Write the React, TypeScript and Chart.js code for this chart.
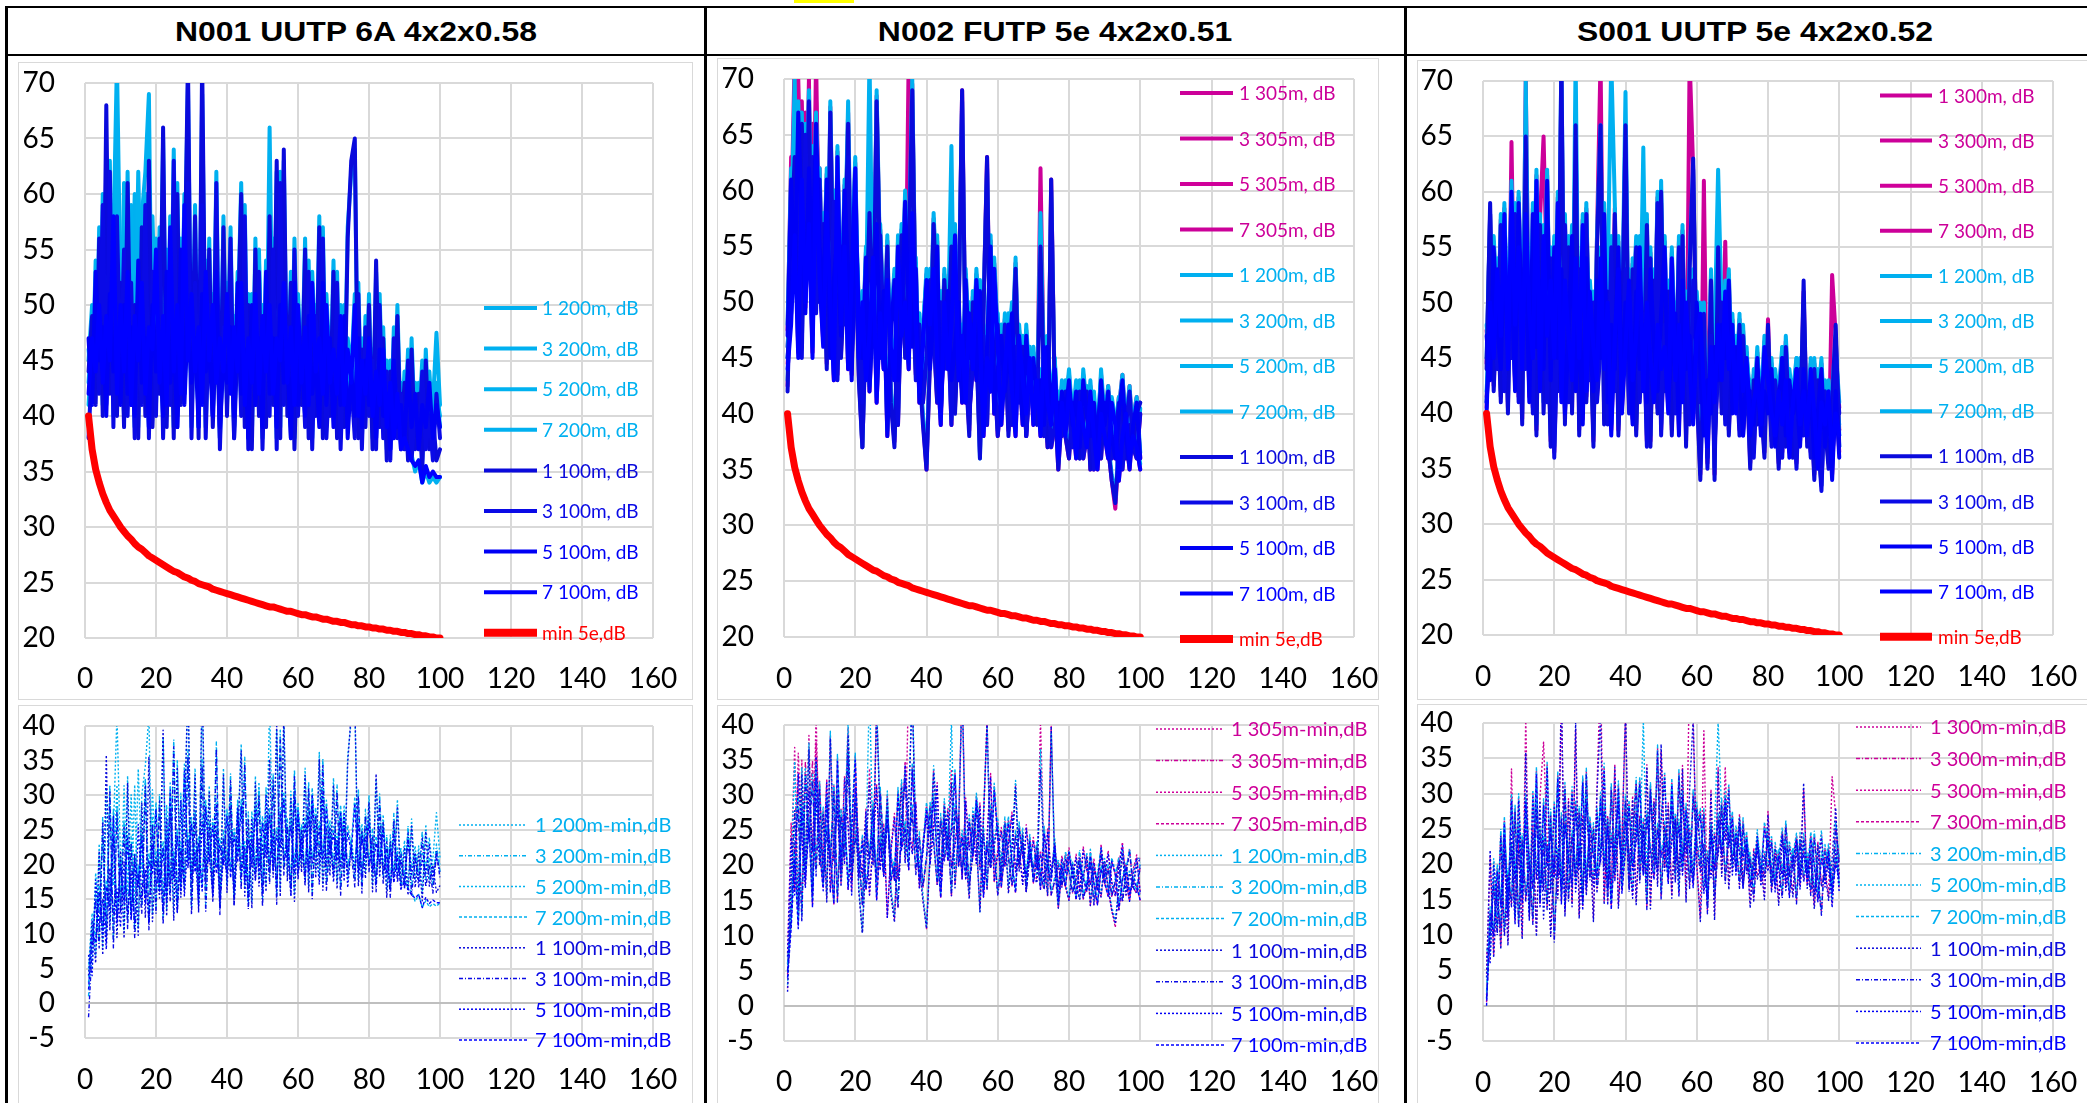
import React, { useEffect, useRef } from "react";
import { Chart, registerables } from "chart.js";
Chart.register(...registerables);

// ---------------- data ----------------
const FREQ = [1,2,3,4,5,6,7,8,9,10,11,12,13,14,15,16,17,18,19,20,21,22,23,24,25,26,27,28,29,30,31,32,33,34,35,36,37,38,39,40,41,42,43,44,45,46,47,48,49,50,51,52,53,54,55,56,57,58,59,60,61,62,63,64,65,66,67,68,69,70,71,72,73,74,75,76,77,78,79,80,81,82,83,84,85,86,87,88,89,90,91,92,93,94,95,96,97,98,99,100];

const MIN_5E = [40,37.0,35.2,34.0,33.0,32.2,31.5,31.0,30.5,30.0,29.6,29.2,28.9,28.5,28.2,28.0,27.7,27.4,27.2,27.0,26.8,26.6,26.4,26.2,26.0,25.9,25.7,25.5,25.4,25.2,25.1,24.9,24.8,24.7,24.6,24.4,24.3,24.2,24.1,24.0,23.9,23.8,23.7,23.6,23.5,23.4,23.3,23.2,23.1,23.0,22.9,22.8,22.8,22.7,22.6,22.5,22.4,22.4,22.3,22.2,22.1,22.1,22.0,21.9,21.9,21.8,21.7,21.7,21.6,21.5,21.5,21.4,21.4,21.3,21.2,21.2,21.1,21.1,21.0,21.0,20.9,20.9,20.8,20.8,20.7,20.7,20.6,20.6,20.5,20.5,20.4,20.4,20.3,20.3,20.2,20.2,20.1,20.1,20.0,20.0];

// N001 UUTP 6A
const N001_200_1 = [45,50,42,57,41,63,43,56,72,51,40,62,42,60,39,58,62,69,40,49,43,65,40,55,39,61,42,52,70,41,59,39,69,43,56,40,50,39,58,41,53,39,48,61,40,51,38,56,41,47,40,66,42,62,39,63,41,53,38,50,42,56,39,51,41,58,39,48,41,54,39,49,40,57,62,64,39,47,40,51,38,53,40,48,37,45,39,50,38,44,37,47,38,43,36,46,38,41,47.5,41];
const N001_200_3 = [41,46,51,43,60,42,63,40,59,44,56,41,53,39,48,42,60,39,54,41,57,39,51,42,64,40,49,43,62,39,53,42,60,39,51,41,62,38,49,43,57,39,52,41,59,38,48,42,54,38,50,41,56,38,62,42,49,39,56,41,48,40,54,38,50,43,57,39,46,41,53,38,48,41,44,39,52,38,49,41,46,38,51,39,45,37,48,39,43,38,46,37,42,39,45,38,41,37,43,39];
const N001_200_5 = [46,42,54,47,57,43,60,48,62,44,61,45,59,43,62,47,60,44,58,46,49,41,55,44,48,40,56,42,50,44,48,40,52,45,47,41,54,40,46,44,49,41,53,43,47,39,51,42,55,40,54,43,48,40,51,44,46,39,53,42,47,41,50,43,46,40,53,42,48,40,46,42,50,39,45,41,48,40,46,42,44,39,47,41,43,38,46,40,42,39,45,40,43,38,42,40,44,39,42,40];
const N001_200_7 = [43,48,45,51,44,50,46,59,43,51,45,54,42,50,46,53,43,49,47,56,44,50,42,58,45,51,43,60,46,52,45,49,42,54,46,51,44,48,45,52,43,49,45,53,42,48,44,52,43,50,45,51,43,48,46,53,44,49,42,51,44,49,42,53,45,48,43,51,44,47,43,50,42,47,44,51,41,46,43,48,41,45,42,47,40,44,39,43,37.5,38.5,37,36.5,35,36,34,35,34,34.5,34,34.5];
const N001_100_1 = [44,49,41,56,40,68,42,55,40,52,39,61,41,50,38,57,40,63,39,48,42,66,39,54,38,60,41,51,72,40,58,38,72,42,55,39,49,38,57,40,52,38,47,60,39,50,37,55,40,46,39,58,41,63,38,64,40,52,37,49,41,55,38,50,40,57,38,47,40,53,38,48,39,56,63,65,38,46,39,50,37,54,39,47,36,44,38,49,37,43,36,46,37,42,35,45,37,40,36,37];
const N001_100_3 = [38,45,50,42,59,41,62,39,58,43,55,40,52,38,47,41,59,38,53,40,56,38,50,41,63,39,48,42,61,38,52,41,59,38,50,40,61,37,48,42,56,38,51,40,58,37,47,41,53,37,49,40,55,37,61,41,48,38,55,40,47,39,53,37,49,42,56,38,45,40,52,37,47,40,43,38,51,37,48,40,45,37,50,38,44,36,47,38,42,37,45,36,41,38,44,37,40,36,42,38];
const N001_100_5 = [47,41,53,45,48,40,51,44,47,41,50,42,48,40,54,43,47,39,50,44,46,40,53,43,47,39,55,41,49,43,47,39,51,44,46,40,53,39,45,43,48,40,52,42,46,38,50,41,47,39,53,42,47,39,50,43,45,38,52,41,46,40,49,42,45,39,52,41,47,39,45,41,49,38,44,40,47,39,45,41,43,38,46,40,42,37,45,39,41,38,44,39,42,37,41,39,43,38,41,39];
const N001_100_7 = [42,47,44,50,43,49,45,58,42,50,44,53,41,49,45,52,42,48,46,55,43,49,41,57,44,50,42,59,45,51,44,48,41,53,45,50,43,47,44,51,42,48,44,52,41,47,43,51,42,49,44,50,42,47,45,52,43,48,41,50,43,48,41,52,44,47,42,50,43,46,42,49,41,46,43,50,40,45,42,47,40,44,41,46,39,43,38,42,37,38,37,36,35.5,36,34,35.5,34.5,35,34.5,34.5];

// N002 FUTP 5e
const N002_305_1 = [42.5,57,72,48.5,68,52.5,70,47.5,72,50.5,57.5,44.5,67.5,49.5,59,45.5,52.5,67,47.5,56.5,43.5,37,48.5,60,46.5,68.5,52.5,44.5,55.5,41.5,37.5,48.5,56.5,45.5,72,69.5,47.5,44.5,39.5,35,45.5,57.5,49.5,42.5,52.5,46.5,57,40.5,48.5,69,44.5,38.5,50.5,46.5,36.5,49.5,63,42.5,45.5,48.5,40.5,47.5,38.5,44.5,53.5,41.5,46.5,38.5,44.5,40.5,39.5,62,42.5,37,61,41.5,35,40.5,38,36,41,38,36,39,42,35,40,38,36,41,37,34,31.5,37,42,36,39,37,41,41];
const N002_305_3 = [46,52,62,65,46,67,56,66,50,62,47.5,55,49.5,60,43.5,56,48.5,64,45.5,52,48.5,41,52.5,47.5,50.5,44.5,56.5,47.5,53.5,43,45.5,39,51.5,57.5,47.5,52.5,43.5,48.5,41,45,52.5,47.5,41,50.5,44.5,48.5,39,51.5,46.5,42,47.5,40,44.5,51.5,42.5,47.5,39,50.5,44.5,38,42.5,48.5,43.5,39,46.5,42.5,45.5,38,43.5,41,44.5,40,38,42.5,37,39,41.5,38,42.5,40,37,39,42.5,36,38,41.5,35,39,42.5,38,40,36,38,41.5,35,39,42.5,37,36,40];
const N002_305_5 = [47.5,63,51.5,70,57.5,49.5,62.5,53.5,68,55.5,50.5,61.5,45.5,52.5,56.5,47.5,60.5,53.5,43.5,58.5,49.5,45,54.5,42,49.5,57.5,45.5,51.5,38,47.5,52.5,43,48.5,59.5,50.5,46.5,53.5,41,47.5,51.5,44.5,49.5,55.5,40,47.5,51.5,43,46.5,50.5,41,52.5,45.5,48.5,43,51.5,39,46.5,55.5,40,44.5,47.5,42,45.5,49.5,41,44.5,39,47.5,42,45.5,41,43.5,39,46.5,40,44.5,38,42.5,40,43.5,39,42.5,37,43.5,40,38,41.5,37,43.5,39,42.5,38,36,40.5,43.5,38,35,39.5,41.5,36];
const N002_305_7 = [44.5,49,58,45.5,63,50.5,58,45.5,66,52.5,46.5,58.5,50.5,43,63.5,48.5,55.5,44,52.5,62.5,45.5,50.5,43,47.5,54.5,41,49.5,44,52.5,46.5,43,55.5,47.5,50.5,44,58.5,48.5,42,46.5,52.5,48.5,53.5,45,39,50.5,44,48.5,56.5,43,47.5,41,49.5,44,52.5,47.5,38,45.5,42,53.5,46.5,39,44.5,48.5,42,38,47.5,43,40,45.5,39,43,38,46.5,41,39,44.5,36,41,38,42.5,40,36,41,39,37,42.5,38,35,40,38,36,41,39,34,38,40.5,36,38,37,35];
const N002_200_1 = [43,56,70,49,67,53,69,48,61,51,58,45,68,50,59,46,53,68,48,57,44,37,49,72,47,69,53,45,56,42,38,49,57,46,54,70,48,45,40,35.5,46,58,50,43,53,47,64,41,49,68,45,39,51,47,36,50,62,43,46,49,41,48,39,45,54,42,47,39,45,41,40,58,43,37.5,60,42,35.5,41,38.5,36.5,41.5,38.5,36,39.5,42.5,35.5,40.5,38.5,36.5,41.5,37.5,34.5,32.5,37.5,42.5,36.5,39.5,37.5,41,41];
const N002_200_3 = [46,51,60,64,46,66,56,64,50,62,48,55,50,60,44,56,49,64,46,52,49,41.5,53,48,51,45,57,48,54,43.5,46,39.5,52,58,48,53,44,49,41.5,45.5,53,48,41.5,51,45,49,39.5,52,47,42.5,48,40.5,45,52,43,48,39.5,51,45,38.5,43,49,44,39.5,47,43,46,38.5,44,41.5,45,40.5,38.5,43,37.5,39.5,42,38.5,43,40.5,37.5,39.5,43,36.5,38.5,42,35.5,39.5,43,38.5,40.5,36.5,38.5,41.5,35.5,39.5,42.5,37.5,36.5,40.5];
const N002_200_5 = [48,62,52,68,58,50,63,54,67,56,51,62,46,53,57,48,61,54,44,59,50,45.5,55,42.5,50,58,46,52,38.5,48,53,43.5,49,60,51,47,54,41.5,48,52,45,50,56,40.5,48,52,43.5,47,51,41.5,53,46,49,43.5,52,39.5,47,56,40.5,45,48,42.5,46,50,41.5,45,39.5,48,42.5,46,41.5,44,39.5,47,40.5,45,38.5,43,40.5,44,39.5,43,37.5,44,40.5,38.5,42,37.5,44,39.5,42.5,38.5,36.5,40.5,43.5,38.5,35.5,39.5,41.5,36.5];
const N002_200_7 = [45,49,57,46,62,51,58,46,65,53,47,59,51,43.5,64,49,56,44.5,53,63,46,51,43.5,48,55,41.5,50,44.5,53,47,43.5,56,48,51,44.5,59,49,42.5,47,53,49,54,45.5,39.5,51,44.5,49,57,43.5,48,41.5,50,44.5,53,48,38.5,46,42.5,54,47,39.5,45,49,42.5,38.5,48,43.5,40.5,46,39.5,43.5,38.5,47,41.5,39.5,45,36.5,41.5,38.5,43,40.5,36.5,41.5,39.5,37.5,43,38.5,35.5,40.5,38.5,36.5,41.5,39.5,34.5,38.5,40.5,36.5,38.5,37.5,35.5];
const N002_100_1 = [42,55,63,48,66,52,68,47,60,50,57,44,67,49,58,45,52,66,47,56,43,37,48,58,46,68,52,44,55,41,37,48,56,45,53,69,47,44,39,35,45,57,49,42,52,46,55,40,48,69,44,38,50,46,36,49,63,42,45,48,40,47,38,44,53,41,46,38,44,40,39,55,42,37,61,41,35,40,38,36,41,38,36,39,42,35,40,38,36,41,37,34,32,37,42,36,39,37,40,41];
const N002_100_3 = [45,50,58,62,45,65,55,63,49,61,47,54,49,59,43,55,48,63,45,51,48,41,52,47,50,44,56,47,53,43,45,39,51,57,47,52,43,48,41,45,52,47,41,50,44,48,39,51,46,42,47,40,44,51,42,47,39,50,44,38,42,48,43,39,46,42,45,38,43,41,44,40,38,42,37,39,41,38,42,40,37,39,42,36,38,41,35,39,42,38,40,36,38,41,35,39,42,37,36,40];
const N002_100_5 = [47,61,51,67,57,49,62,53,66,55,50,61,45,52,56,47,60,53,43,58,49,45,54,42,49,57,45,51,38,47,52,43,48,59,50,46,53,41,47,51,44,49,55,40,47,51,43,46,50,41,52,45,48,43,51,39,46,55,40,44,47,42,45,49,41,44,39,47,42,45,41,43,39,46,40,44,38,42,40,43,39,42,37,43,40,38,41,37,43,39,42,38,36,40,43,38,35,39,41,36];
const N002_100_7 = [44,48,56,45,61,50,57,45,63,52,46,58,50,43,63,48,55,44,52,62,45,50,43,47,54,41,49,44,52,46,43,55,47,50,44,58,48,42,46,52,48,53,45,39,50,44,48,56,43,47,41,49,44,52,47,38,45,42,53,46,39,44,48,42,38,47,43,40,45,39,43,38,46,41,39,44,36,41,38,42,40,36,41,39,37,42,38,35,40,38,36,41,39,34,38,40,36,38,37,35];

// S001 UUTP 5e
const S001_300_1 = [44.5,58,42.5,52,41.5,55,40.5,64.5,43.5,53,39.5,70,42.5,54,38.5,57.5,65,51,37.5,48.5,42.5,70,39.5,55.5,40.5,65,38.5,52.5,41.5,49.5,37.5,56,72,39.5,51.5,40.5,58.5,38.5,47.5,65,41.5,53.5,38.5,50.5,42.5,57.5,37.5,52.5,40.5,59,42.5,51.5,38.5,49.5,41.5,56.5,37.5,72,62,42.5,34.5,61,36.5,52.5,34.5,55.5,40.5,55.5,38.5,46.5,41.5,48.5,38.5,44.5,35.5,43.5,39.5,41.5,36.5,48.5,38.5,42.5,35.5,45.5,37.5,40.5,36.5,44.5,38.5,51,37.5,41.5,34.5,43.5,37.5,39.5,35.5,52.5,47,38.5];
const S001_300_3 = [41.5,47.5,52.5,44.5,57.5,42.5,50.5,45.5,58.5,41.5,53.5,44.5,49.5,40.5,56.5,43.5,51.5,41.5,54.5,36.5,48.5,43.5,57.5,41.5,50.5,44.5,53.5,40.5,58.5,43.5,50.5,41.5,46.5,52.5,39.5,55.5,42.5,49.5,44.5,53.5,40.5,47.5,55.5,41.5,49.5,37.5,54.5,43.5,59.5,38.5,48.5,44.5,51.5,40.5,55.5,43.5,47.5,39.5,52.5,45.5,41.5,49.5,35.5,47.5,37.5,44.5,50.5,39.5,46.5,42.5,45.5,38.5,47.5,40.5,42.5,36.5,44.5,41.5,39.5,45.5,37.5,43.5,40.5,36.5,46.5,39.5,42.5,35.5,44.5,38.5,41.5,36.5,44.5,38.5,33.5,42.5,39.5,37.5,45.5,40.5];
const S001_300_5 = [47.5,43.5,55.5,48.5,44.5,56.5,46.5,53.5,42.5,59.5,47.5,55.5,41.5,58.5,46.5,52.5,44.5,61.5,43.5,55.5,45.5,53.5,40.5,47.5,56.5,42.5,48.5,39.5,54.5,46.5,42.5,52.5,45.5,58.5,41.5,48.5,44.5,55.5,42.5,50.5,45.5,39.5,51.5,44.5,48.5,41.5,53.5,46.5,42.5,49.5,55.5,41.5,46.5,49.5,38.5,52.5,44.5,47.5,40.5,50.5,44.5,38.5,43.5,40.5,46.5,43.5,48.5,45.5,52.5,40.5,46.5,43.5,38.5,44.5,41.5,39.5,45.5,38.5,42.5,40.5,44.5,37.5,41.5,45.5,38.5,43.5,40.5,42.5,37.5,44.5,39.5,42.5,36.5,40.5,44.5,37.5,41.5,34.5,42.5,36.5];
const S001_300_7 = [40.5,50.5,45.5,53.5,47.5,58.5,44.5,60.5,48.5,55.5,44.5,58.5,49.5,45.5,61.5,42.5,56.5,47.5,52.5,45.5,59.5,41.5,52.5,47.5,43.5,54.5,45.5,57.5,42.5,51.5,46.5,43.5,54.5,44.5,50.5,38.5,47.5,53.5,40.5,46.5,52.5,43.5,47.5,55.5,42.5,50.5,45.5,41.5,48.5,44.5,46.5,40.5,54.5,43.5,48.5,41.5,50.5,44.5,39.5,47.5,49.5,42.5,37.5,46.5,41.5,48.5,43.5,51.5,44.5,48.5,40.5,47.5,42.5,45.5,38.5,41.5,43.5,39.5,46.5,43.5,40.5,38.5,42.5,39.5,43.5,36.5,41.5,44.5,39.5,42.5,38.5,44.5,40.5,35.5,41.5,39.5,42.5,36.5,40.5,38.5];
const S001_200_1 = [45,58,43,52,42,55,41,57,44,53,40,70,43,54,39,58,41,51,38,49,43,72,40,56,41,72,39,53,42,50,38,56,66,40,52,72,59,39,48,69,42,54,39,51,43,58,38,53,41,61,43,52,39,50,42,57,38,54,62,43,35,46,37,53,35,56,41,51,39,47,42,49,39,45,36,44,40,42,37,47,39,43,36,46,38,41,37,45,39,50,38,42,35,44,38,40,36,42,47,38];
const S001_200_3 = [42,48,53,45,58,43,51,46,59,42,54,45,50,41,57,44,52,42,55,37,49,44,58,42,51,45,54,41,59,44,51,42,47,53,40,56,43,50,45,54,41,48,56,42,50,38,55,44,60,39,49,45,52,41,56,44,48,40,53,46,42,50,36,48,38,45,51,40,47,43,46,39,48,41,43,37,45,42,40,46,38,44,41,37,47,40,43,36,45,39,42,37,45,39,33.5,43,40,38,46,41];
const S001_200_5 = [48,44,56,49,45,58,47,54,43,60,48,56,42,59,47,53,45,62,44,56,46,54,41,48,57,43,49,40,55,47,43,53,46,59,42,49,45,56,43,51,46,40,52,45,64,42,54,47,43,50,56,42,47,50,39,53,45,48,41,51,45,39,44,41,47,62,49,46,53,41,47,44,39,45,42,40,46,39,43,41,45,38,42,46,39,44,41,43,38,45,40,43,37,41,45,38,42,35,43,37];
const S001_200_7 = [41,51,46,54,48,59,45,61,49,56,45,59,50,46,62,43,57,48,53,46,60,42,53,48,44,55,46,58,43,52,47,44,55,45,51,39,48,54,41,47,53,44,48,56,43,51,46,42,49,45,47,41,55,44,49,42,51,45,40,48,50,43,38,47,42,49,44,52,45,49,41,48,43,46,39,42,44,40,47,44,41,39,43,40,44,37,42,45,40,43,39,45,41,36,42,40,43,37,41,39];
const S001_100_1 = [44,59,42,51,41,54,40,56,43,52,39,65,42,53,38,57,40,50,37,48,42,72,39,55,40,66,38,52,41,49,37,55,66,39,51,40,58,38,47,66,41,53,38,50,42,57,37,52,40,60,42,51,38,49,41,56,37,53,63,42,34,45,36,52,34,55,40,50,38,46,41,48,38,44,35,43,39,41,36,48,38,42,35,45,37,40,36,44,38,52,37,41,34,43,37,39,35,41,48,37];
const S001_100_3 = [41,47,52,44,57,42,50,45,58,41,53,44,49,40,56,43,51,41,54,36,48,43,57,41,50,44,53,40,58,43,50,41,46,52,39,55,42,49,44,53,40,47,55,41,49,37,54,43,59,38,48,44,51,40,55,43,47,39,52,45,41,49,35,47,37,44,50,39,46,42,45,38,47,40,42,36,44,41,39,45,37,43,40,36,46,39,42,35,44,38,41,36,44,38,33,42,39,37,45,40];
const S001_100_5 = [47,43,55,48,44,56,46,53,42,59,47,55,41,58,46,52,44,61,43,55,45,53,40,47,56,42,48,39,54,46,42,52,45,58,41,48,44,55,42,50,45,39,51,44,48,41,53,46,42,49,55,41,46,49,38,52,44,47,40,50,44,38,43,40,46,43,48,45,52,40,46,43,38,44,41,39,45,38,42,40,44,37,41,45,38,43,40,42,37,44,39,42,36,40,44,37,41,34,42,36];
const S001_100_7 = [40,50,45,53,47,58,44,60,48,55,44,58,49,45,61,42,56,47,52,45,59,41,52,47,43,54,45,57,42,51,46,43,54,44,50,38,47,53,40,46,52,43,47,55,42,50,45,41,48,44,46,40,54,43,48,41,50,44,39,47,49,42,37,46,41,48,43,51,44,48,40,47,42,45,38,41,43,39,46,43,40,38,42,39,43,36,41,44,39,42,38,44,40,35,41,39,42,36,40,38];

// ---------------- labels ----------------
const TITLES = ["N001 UUTP 6A 4x2x0.58", "N002 FUTP 5e 4x2x0.51", "S001 UUTP 5e 4x2x0.52"];
const PAIRS = ["1", "3", "5", "7"];

// ---------------- styles ----------------
const MAG = ["#CC0099", "#CC0099", "#D0009A", "#CC0099"];
const CYN = ["#00B0F0", "#00B0F0", "#00B2F0", "#00B0F0"];
const BLU = ["#0A0ADC", "#0A0AE6", "#0000F5", "#0000FF"];
const RED = "#FF0000";
const DASHES = [[2, 2], [4, 2, 1, 2], [2, 2], [3, 2]];
const TICK_FONT = { family: "Lato", size: 28 };

type Ser = { label: string; data: number[]; color: string; width: number; dash: number[]; lw: number };
type Spec = {
  box: { l: number; t: number; w: number; h: number };
  plot: { l: number; t: number; r: number; b: number };
  xLabelY: number;
  yMin: number; yMax: number;
  series: Ser[];
  leg: { x0: number; x1: number; tx: number; y0: number; dy: number; size: number };
};

const diff = (a: number[]) => a.map((v, i) => Math.round((v - MIN_5E[i]) * 100) / 100);

function top(groups: { len: string; arrs: number[][]; colors: string[] }[]): Ser[] {
  const out: Ser[] = [];
  groups.forEach((g) =>
    g.arrs.forEach((a, i) =>
      out.push({ label: `${PAIRS[i]} ${g.len}, dB`, data: a, color: g.colors[i], width: 4, dash: [], lw: 4 })
    )
  );
  out.push({ label: "min 5e,dB", data: MIN_5E, color: RED, width: 7, dash: [], lw: 8 });
  return out;
}
function bottom(groups: { len: string; arrs: number[][]; idx: number[]; colors: string[] }[]): Ser[] {
  const out: Ser[] = [];
  groups.forEach((g) =>
    g.idx.forEach((p) =>
      out.push({
        label: `${PAIRS[p]} ${g.len}-min,dB`,
        data: diff(g.arrs[p]),
        color: g.colors[p],
        width: 1.4,
        dash: DASHES[p],
        lw: 1.5,
      })
    )
  );
  return out;
}

const N1_200 = [N001_200_1, N001_200_3, N001_200_5, N001_200_7];
const N1_100 = [N001_100_1, N001_100_3, N001_100_5, N001_100_7];
const N2_305 = [N002_305_1, N002_305_3, N002_305_5, N002_305_7];
const N2_200 = [N002_200_1, N002_200_3, N002_200_5, N002_200_7];
const N2_100 = [N002_100_1, N002_100_3, N002_100_5, N002_100_7];
const S1_300 = [S001_300_1, S001_300_3, S001_300_5, S001_300_7];
const S1_200 = [S001_200_1, S001_200_3, S001_200_5, S001_200_7];
const S1_100 = [S001_100_1, S001_100_3, S001_100_5, S001_100_7];

const SPECS: Spec[] = [
  {
    box: { l: 18, t: 62, w: 675, h: 638 }, plot: { l: 85, t: 83, r: 653, b: 638 }, xLabelY: 679, yMin: 20, yMax: 70,
    series: top([{ len: "200m", arrs: N1_200, colors: CYN }, { len: "100m", arrs: N1_100, colors: BLU }]),
    leg: { x0: 466, x1: 519, tx: 524, y0: 246, dy: 40.6, size: 19 },
  },
  {
    box: { l: 18, t: 705, w: 675, h: 405 }, plot: { l: 85, t: 726, r: 653, b: 1038 }, xLabelY: 1080, yMin: -5, yMax: 40,
    series: bottom([
      { len: "200m", arrs: N1_200, idx: [0, 1, 2, 3], colors: CYN },
      { len: "100m", arrs: N1_100, idx: [0, 1, 2, 3], colors: BLU },
    ]),
    leg: { x0: 441, x1: 509, tx: 517, y0: 120, dy: 30.7, size: 20 },
  },
  {
    box: { l: 717, t: 58, w: 662, h: 642 }, plot: { l: 784, t: 79, r: 1354, b: 637 }, xLabelY: 679, yMin: 20, yMax: 70,
    series: top([
      { len: "305m", arrs: N2_305, colors: MAG },
      { len: "200m", arrs: N2_200, colors: CYN },
      { len: "100m", arrs: N2_100, colors: BLU },
    ]),
    leg: { x0: 463, x1: 516, tx: 522, y0: 35, dy: 45.5, size: 19 },
  },
  {
    box: { l: 717, t: 705, w: 662, h: 405 }, plot: { l: 784, t: 725, r: 1354, b: 1041 }, xLabelY: 1082, yMin: -5, yMax: 40,
    series: bottom([
      { len: "305m", arrs: N2_305, idx: [0, 1, 2, 3], colors: MAG },
      { len: "200m", arrs: N2_200, idx: [0, 1, 3], colors: CYN },
      { len: "100m", arrs: N2_100, idx: [0, 1, 2, 3], colors: BLU },
    ]),
    leg: { x0: 439, x1: 507, tx: 514, y0: 24, dy: 31.6, size: 20 },
  },
  {
    box: { l: 1417, t: 60, w: 690, h: 640 }, plot: { l: 1483, t: 81, r: 2053, b: 635 }, xLabelY: 677, yMin: 20, yMax: 70,
    series: top([
      { len: "300m", arrs: S1_300, colors: MAG },
      { len: "200m", arrs: S1_200, colors: CYN },
      { len: "100m", arrs: S1_100, colors: BLU },
    ]),
    leg: { x0: 463, x1: 515, tx: 521, y0: 35.5, dy: 45.1, size: 19 },
  },
  {
    box: { l: 1417, t: 704, w: 690, h: 406 }, plot: { l: 1483, t: 723, r: 2053, b: 1041 }, xLabelY: 1083, yMin: -5, yMax: 40,
    series: bottom([
      { len: "300m", arrs: S1_300, idx: [0, 1, 2, 3], colors: MAG },
      { len: "200m", arrs: S1_200, idx: [1, 2, 3], colors: CYN },
      { len: "100m", arrs: S1_100, idx: [0, 1, 2, 3], colors: BLU },
    ]),
    leg: { x0: 439, x1: 504, tx: 513, y0: 23, dy: 31.6, size: 20 },
  },
];

function ChartBox({ spec }: { spec: Spec }) {
  const ref = useRef<HTMLCanvasElement | null>(null);
  useEffect(() => {
    const canvas = ref.current;
    if (!canvas) return;
    const { box, plot, leg } = spec;
    const yW = plot.l - box.l;
    const xH = box.t + box.h - plot.b;
    const padTop = plot.t - box.t;
    const padRight = box.l + box.w - plot.r;
    const xPad = spec.xLabelY - plot.b - (TICK_FONT.size * 1.2) / 2;
    const n = spec.series.length;
    const legendPlugin = {
      id: "overlayLegend",
      afterDraw(chart: any) {
        const ctx = chart.ctx;
        ctx.save();
        spec.series.forEach((s, i) => {
          const y = leg.y0 + i * leg.dy;
          ctx.beginPath();
          ctx.setLineDash(s.dash);
          ctx.strokeStyle = s.color;
          ctx.lineWidth = s.lw;
          ctx.lineCap = "butt";
          ctx.moveTo(leg.x0, y);
          ctx.lineTo(leg.x1, y);
          ctx.stroke();
          ctx.setLineDash([]);
          ctx.fillStyle = s.color;
          ctx.font = `${leg.size}px Lato`;
          ctx.textBaseline = "middle";
          ctx.textAlign = "left";
          ctx.fillText(s.label, leg.tx, y + 1);
        });
        ctx.restore();
      },
    };
    const chart = new Chart(canvas, {
      type: "line",
      data: {
        datasets: spec.series.map((s, i) => ({
          label: s.label,
          data: s.data.map((v, k) => ({ x: FREQ[k], y: v })),
          borderColor: s.color,
          backgroundColor: s.color,
          borderWidth: s.width,
          borderDash: s.dash,
          pointRadius: 0,
          fill: false,
          tension: 0,
          order: n - i,
          borderJoinStyle: "round",
          borderCapStyle: s.dash.length ? "butt" : "round",
        })),
      },
      options: {
        animation: false,
        responsive: false,
        maintainAspectRatio: false,
        events: [],
        layout: { autoPadding: false, padding: { top: padTop, right: padRight, left: 0, bottom: 0 } },
        plugins: { legend: { display: false }, tooltip: { enabled: false } },
        scales: {
          x: {
            type: "linear",
            min: 0,
            max: 160,
            ticks: { stepSize: 20, font: TICK_FONT, color: "#000", padding: xPad, maxRotation: 0, autoSkip: false },
            grid: { color: "#D9D9D9", lineWidth: 2, drawTicks: false },
            border: { display: false },
            afterFit: (s: any) => {
              s.height = xH;
              s.paddingLeft = 0;
              s.paddingRight = 0;
            },
          },
          y: {
            type: "linear",
            min: spec.yMin,
            max: spec.yMax,
            ticks: { stepSize: 5, font: TICK_FONT, color: "#000", padding: 30, autoSkip: false },
            grid: {
              color: (c: any) => (c.tick && c.tick.value === 0 ? "#BFBFBF" : "#D9D9D9"),
              lineWidth: 2,
              drawTicks: false,
            },
            border: { display: false },
            afterFit: (s: any) => {
              s.width = yW;
              s.paddingTop = 0;
              s.paddingBottom = 0;
            },
          },
        },
      } as any,
      plugins: [legendPlugin],
    } as any);
    return () => chart.destroy();
  }, [spec]);
  return (
    <canvas
      ref={ref}
      width={spec.box.w}
      height={spec.box.h}
      style={{
        position: "absolute",
        left: spec.box.l,
        top: spec.box.t,
        width: spec.box.w,
        height: spec.box.h,
        outline: "1px solid #D9D9D9",
        outlineOffset: "-1px",
      }}
    />
  );
}

export default function App() {
  const line = (l: number, t: number, w: number, h: number) => (
    <div style={{ position: "absolute", left: l, top: t, width: w, height: h, background: "#000" }} />
  );
  const titleCenters = [356, 1055, 1755];
  return (
    <div
      style={{
        position: "fixed",
        left: 0,
        top: 0,
        width: 2087,
        height: 1103,
        overflow: "hidden",
        background: "#fff",
      }}
    >
      <div style={{ position: "absolute", left: 794, top: 0, width: 60, height: 3, background: "#FFFF00" }} />
      {SPECS.map((s, i) => (
        <ChartBox key={i} spec={s} />
      ))}
      {line(5, 6, 2100, 2)}
      {line(5, 54, 2100, 2)}
      {line(5, 6, 3, 1100)}
      {line(704, 6, 3, 1100)}
      {line(1404, 6, 3, 1100)}
      {TITLES.map((t, i) => (
        <div
          key={t}
          style={{
            position: "absolute",
            left: titleCenters[i] - 300,
            top: 14,
            width: 600,
            height: 36,
            lineHeight: "36px",
            textAlign: "center",
            fontFamily: "'Liberation Sans', Arial, sans-serif",
            fontWeight: 700,
            fontSize: 28,
            color: "#000",
            transform: "scaleX(1.14)",
            whiteSpace: "nowrap",
          }}
        >
          {t}
        </div>
      ))}
    </div>
  );
}
